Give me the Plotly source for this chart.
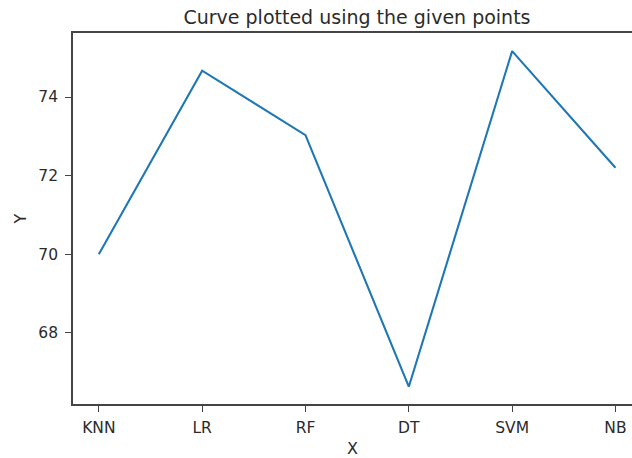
import plotly.graph_objects as go

categories = ["KNN", "LR", "RF", "DT", "SVM", "NB"]
values = [70.0, 74.67, 73.03, 66.63, 75.17, 72.2]
y_ticks = [68, 70, 72, 74]

W, H = 632, 458
L, R, T, B = 73, 0, 33, 54
font = "DejaVu Sans"
txt = "#2b2b2b"
axc = "#444444"

fig = go.Figure(go.Scatter(
    x=categories, y=values, mode="lines",
    line=dict(color="#1f77b4", width=2.1),
))

fig.update_layout(
    width=W, height=H,
    margin=dict(l=L, r=R, t=T, b=B, autoexpand=False),
    paper_bgcolor="white", plot_bgcolor="white",
    showlegend=False,
    font=dict(family=font, size=15.5, color=txt),
    title=dict(text="Curve plotted using the given points",
               x=357 / W, xref="container", xanchor="center",
               y=1 - 17 / H, yref="container", yanchor="middle",
               font=dict(family=font, size=19, color=txt)),
)
fig.update_xaxes(
    type="category", range=[-0.25, 5.16], automargin=False,
    showgrid=False, zeroline=False,
    showline=True, linecolor=axc, linewidth=1.6, mirror=True,
    ticks="outside", ticklen=6, tickwidth=1.3, tickcolor=axc,
    ticklabelstandoff=3,
    title=dict(text="X", standoff=6, font=dict(size=16, color=txt)),
)
fig.update_yaxes(
    range=[66.19, 75.63], tickvals=y_ticks, automargin=False,
    showgrid=False, zeroline=False,
    showline=True, linecolor=axc, linewidth=1.6, mirror=False,
    ticks="outside", ticklen=6, tickwidth=1.3, tickcolor=axc,
    ticklabelstandoff=4,
    title=dict(text="Y", standoff=8, font=dict(size=16, color=txt)),
)

fig.write_html("out.html",
               config={"displayModeBar": False},
               post_script="document.body.style.margin='0';document.body.style.overflow='hidden';")
